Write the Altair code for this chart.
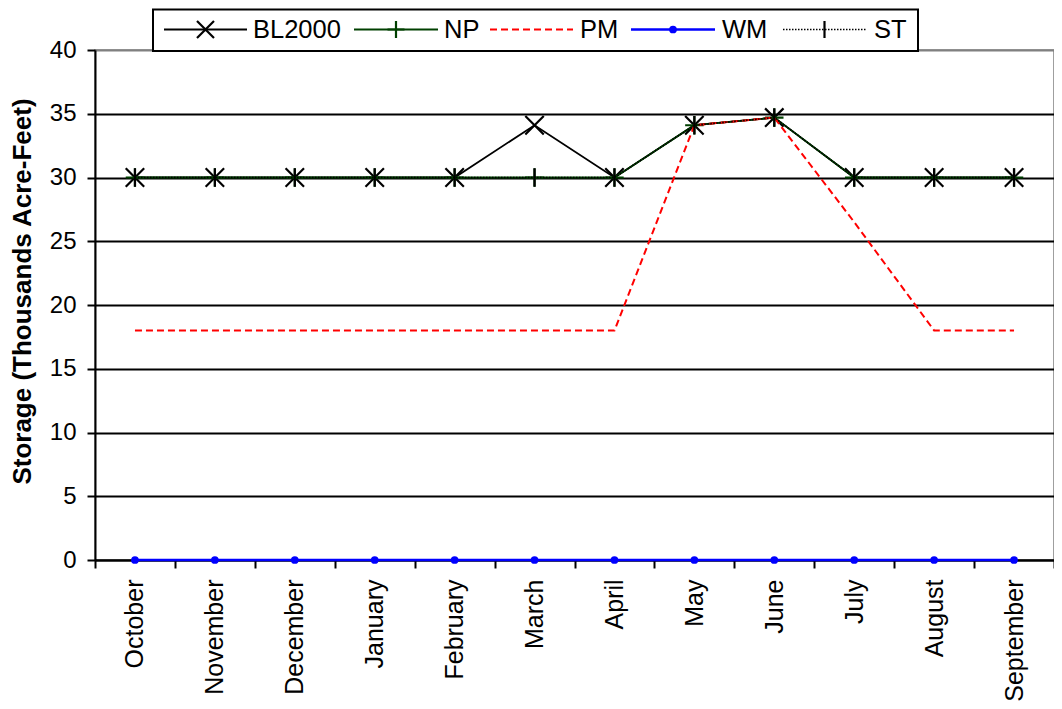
import altair as alt
import pandas as pd

MONTHS = ["October", "November", "December", "January", "February", "March",
          "April", "May", "June", "July", "August", "September"]
SERIES = ["BL2000", "NP", "PM", "WM", "ST"]
BL2000 = [30, 30, 30, 30, 30, 34.1, 30, 34.1, 34.7, 30, 30, 30]
NP = [30, 30, 30, 30, 30, 30, 30, 34.1, 34.7, 30, 30, 30]
PM = [18, 18, 18, 18, 18, 18, 18, 34.1, 34.7, 26.5, 18, 18]
WM = [0, 0, 0, 0, 0, 0, 0, 0, 0, 0, 0, 0]
ST = [30, 30, 30, 30, 30, 30, 30, 34.1, 34.7, 30, 30, 30]
Y_TICKS = [0, 5, 10, 15, 20, 25, 30, 35, 40]

VALUES = {"BL2000": BL2000, "NP": NP, "PM": PM, "WM": WM, "ST": ST}
rows = []
for s in SERIES:
    for m, v in zip(MONTHS, VALUES[s]):
        rows.append({"series": s, "month": m, "value": v})
df = pd.DataFrame(rows)

FONT = "Liberation Sans"
X_PATH = "M-1,-1L1,1M-1,1L1,-1"
PLUS_PATH = "M-1,0L1,0M0,-1L0,1"
BAR_PATH = "M0,-1L0,1"

STYLE = {
    "BL2000": dict(color="black", dash=None, width=1.8, marker=X_PATH),
    "NP": dict(color="#004000", dash=None, width=1.8, marker=PLUS_PATH),
    "PM": dict(color="#FF0000", dash=[7, 4], width=2, marker=None),
    "WM": dict(color="#0000FF", dash=None, width=2.5, marker="circle"),
    "ST": dict(color="black", dash=[1.5, 1.5], width=1.5, marker=BAR_PATH),
}

PAD_L, PAD_T = 87, 42
W, H = 959, 510

x_enc = alt.X(
    "month:N", sort=MONTHS,
    scale=alt.Scale(type="band", paddingInner=0, paddingOuter=0),
    axis=alt.Axis(title=None, labelAngle=-90, tickBand="extent", tickSize=8,
                  tickColor="black", tickWidth=2, domainColor="black",
                  domainWidth=2, labelPadding=11, labelFont=FONT,
                  labelFontSize=25, labelColor="black", grid=False),
)
y_enc = alt.Y(
    "value:Q", scale=alt.Scale(domain=[0, 40], nice=False, zero=True),
    axis=alt.Axis(values=Y_TICKS, title="Storage (Thousands Acre-Feet)",
                  titleFont=FONT, titleFontSize=26, titleFontWeight="bold",
                  titleColor="black", titlePadding=14, titleY=241,
                  labelFont=FONT,
                  labelFontSize=24, labelColor="black", labelPadding=11,
                  tickSize=8, tickColor="black", tickWidth=2,
                  domainColor="black", domainWidth=2, grid=True,
                  gridColor={"condition": {"test": "datum.value === 40", "value": "#808080"},
                             "value": "black"},
                  gridWidth=2),
)

base = alt.Chart(df)
layers = []
for s in SERIES:
    st = STYLE[s]
    kw = dict(color=st["color"], strokeWidth=st["width"])
    if st["dash"]:
        kw["strokeDash"] = st["dash"]
    layers.append(base.transform_filter(alt.datum.series == s)
                  .mark_line(**kw).encode(x=x_enc, y=y_enc))
    if st["marker"] == "circle":
        layers.append(base.transform_filter(alt.datum.series == s)
                      .mark_point(shape="circle", filled=True, size=60,
                                  color=st["color"], opacity=1)
                      .encode(x=x_enc, y=y_enc))
    elif st["marker"]:
        layers.append(base.transform_filter(alt.datum.series == s)
                      .mark_point(shape=st["marker"], filled=False, size=340,
                                  color=st["color"], strokeWidth=2.2, opacity=1)
                      .encode(x=x_enc, y=y_enc))

# manual legend (page positions converted to plot-relative pixels)
one = alt.Chart(pd.DataFrame({"k": [0]}))
X0, Y0 = 8 + PAD_L, 8 + PAD_T
LY = 29.5 - Y0
layers.append(one.mark_rect(fill="white", stroke="black", strokeWidth=2).encode(
    x=alt.value(153 - X0), x2=alt.value(918 - X0),
    y=alt.value(9.5 - Y0), y2=alt.value(51 - Y0)))
LEG_POS = {  # line start, line end, text start
    "BL2000": (164, 247, 253),
    "NP": (354, 438, 444),
    "PM": (490, 573, 580),
    "WM": (631, 715, 722),
    "ST": (783, 866, 874),
}
for s in SERIES:
    st = STYLE[s]
    a, b, t = LEG_POS[s]
    kw = dict(color=st["color"], strokeWidth=st["width"])
    if st["dash"]:
        kw["strokeDash"] = st["dash"]
    layers.append(one.mark_rule(**kw).encode(
        x=alt.value(a - X0), x2=alt.value(b - X0), y=alt.value(LY)))
    mx = (a + b) / 2 - X0
    if st["marker"] == "circle":
        layers.append(one.mark_point(shape="circle", filled=True, size=60,
                                     color=st["color"], opacity=1).encode(
            x=alt.value(mx), y=alt.value(LY)))
    elif st["marker"]:
        layers.append(one.mark_point(shape=st["marker"], filled=False, size=289,
                                     color=st["color"], strokeWidth=2.2, opacity=1).encode(
            x=alt.value(mx), y=alt.value(LY)))
    layers.append(one.mark_text(align="left", baseline="middle", font=FONT,
                                fontSize=25.5, color="black").encode(
        x=alt.value(t - X0), y=alt.value(LY), text=alt.value(s)))

chart = alt.layer(*layers).properties(
    width=W, height=H,
    autosize=alt.AutoSizeParams(type="none"),
    padding={"left": PAD_L, "top": PAD_T, "right": 0, "bottom": 141},
).configure_view(stroke="#808080", strokeWidth=1.5)

chart.save("out.html", embed_options={"renderer": "svg", "actions": False})
